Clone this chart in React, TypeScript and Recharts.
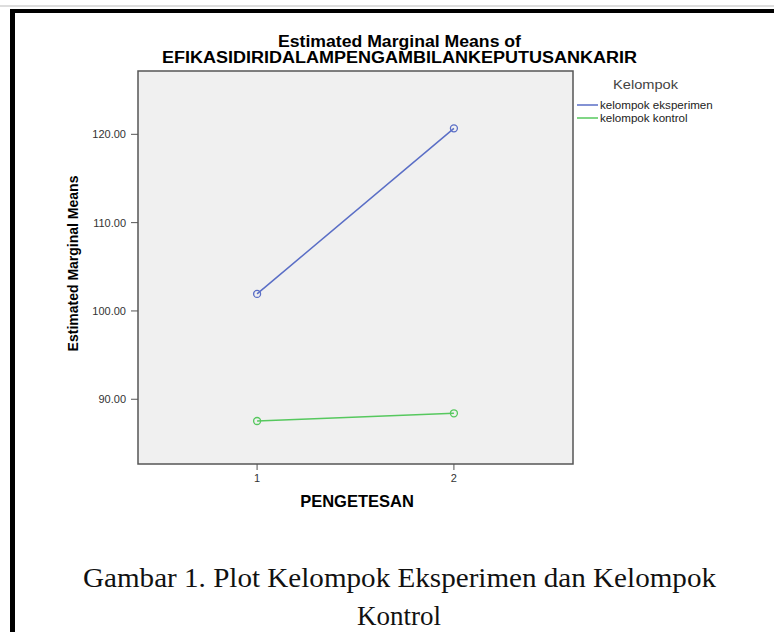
import React from 'react';
import { LineChart, Line, XAxis, YAxis, ReferenceArea, Legend } from 'recharts';

const categories = [1, 2];
const eksperimen = [101.93, 120.68];
const kontrol = [87.54, 88.41];
const seriesNames = ['kelompok eksperimen', 'kelompok kontrol'];
const seriesColors = ['#5a6ec6', '#56c85e'];
const yTicks = [90, 100, 110, 120];
const xTicks = [1, 2];
const yDomain = [82.67, 127.17];
const xDomain = [0.395, 2.605];

const titleLine1 = 'Estimated Marginal Means of';
const titleLine2 = 'EFIKASIDIRIDALAMPENGAMBILANKEPUTUSANKARIR';
const yLabel = 'Estimated Marginal Means';
const xLabel = 'PENGETESAN';
const legendTitle = 'Kelompok';
const caption1 = 'Gambar 1. Plot Kelompok Eksperimen dan Kelompok';
const caption2 = 'Kontrol';

const data = categories.map((c, i) => ({ x: c, eks: eksperimen[i], kon: kontrol[i] }));

const SANS = '"Liberation Sans", Arial, sans-serif';
const SERIF = '"Liberation Serif", "Times New Roman", serif';

const Dot = (props: any) => {
  const { cx, cy, stroke } = props;
  if (cx == null || cy == null) return null;
  return <circle cx={cx} cy={cy} r={3.5} fill="none" stroke={stroke} strokeWidth={1.3} />;
};

const LegendContent = () => (
  <svg width={190} height={60} style={{ display: 'block' }}>
    <text x={40} y={14} fontFamily={SANS} fontSize={13} fill="#444" textLength={65} lengthAdjust="spacingAndGlyphs">
      {legendTitle}
    </text>
    {seriesNames.map((n, i) => (
      <g key={n}>
        <line x1={4} x2={25} y1={30 + i * 13} y2={30 + i * 13} stroke={seriesColors[i]} strokeWidth={1.5} />
        <text x={27} y={30 + i * 13} dy="0.35em" fontFamily={SANS} fontSize={11.6} fill="#222">
          {n}
        </text>
      </g>
    ))}
  </svg>
);

export default function App() {
  return (
    <div style={{ position: 'absolute', left: 0, top: 0, width: 774, height: 632, background: '#fff', overflow: 'hidden' }}>
      <div style={{ position: 'absolute', left: 0, top: 0 }}>
        <LineChart
          width={774}
          height={540}
          data={data}
          margin={{ top: 71, right: 201, left: 78, bottom: 46 }}
        >
          <ReferenceArea
            x1={xDomain[0]}
            x2={xDomain[1]}
            y1={yDomain[0]}
            y2={yDomain[1]}
            fill="#f0f0f0"
            fillOpacity={1}
            stroke="#555"
            strokeWidth={1.5}
            ifOverflow="extendDomain"
          />
          <XAxis
            type="number"
            dataKey="x"
            domain={xDomain}
            ticks={xTicks}
            allowDataOverflow
            axisLine={false}
            tickLine={{ stroke: '#555' }}
            tickSize={6}
            tickMargin={4}
            height={30}
            tick={{ fontSize: 11, fill: '#333', fontFamily: SANS }}
          />
          <YAxis
            type="number"
            domain={yDomain}
            ticks={yTicks}
            allowDataOverflow
            axisLine={false}
            tickLine={{ stroke: '#555' }}
            tickSize={7}
            tickMargin={5}
            width={60}
            tickFormatter={(v: number) => v.toFixed(2)}
            tick={{ fontSize: 11, fill: '#333', fontFamily: SANS }}
          />
          <Legend
            layout="horizontal"
            verticalAlign="middle"
            align="center"
            content={LegendContent}
            wrapperStyle={{ position: 'absolute', left: 573, top: 75, width: 190, height: 60 }}
          />
          <Line
            name={seriesNames[0]}
            dataKey="eks"
            stroke={seriesColors[0]}
            strokeWidth={1.5}
            dot={<Dot />}
            activeDot={false}
            isAnimationActive={false}
          />
          <Line
            name={seriesNames[1]}
            dataKey="kon"
            stroke={seriesColors[1]}
            strokeWidth={1.5}
            dot={<Dot />}
            activeDot={false}
            isAnimationActive={false}
          />
        </LineChart>
      </div>
      <svg width={774} height={632} style={{ position: 'absolute', left: 0, top: 0, pointerEvents: 'none' }}>
        <rect x={0} y={5.5} width={774} height={1} fill="#bbb" />
        <rect x={10} y={9} width={764} height={4} fill="#000" />
        <rect x={10} y={9} width={5} height={623} fill="#000" />
        <text x={278} y={46.5} fontFamily={SANS} fontWeight="bold" fontSize={16} fill="#000" textLength={243} lengthAdjust="spacingAndGlyphs">
          {titleLine1}
        </text>
        <text x={162} y={63} fontFamily={SANS} fontWeight="bold" fontSize={16} fill="#000" textLength={475} lengthAdjust="spacingAndGlyphs">
          {titleLine2}
        </text>
        <text
          x={73}
          y={263.5}
          transform="rotate(-90 73 263.5)"
          textAnchor="middle"
          dy="0.35em"
          fontFamily={SANS}
          fontWeight="bold"
          fontSize={14}
          fill="#000"
        >
          {yLabel}
        </text>
        <text x={357} y={507} textAnchor="middle" fontFamily={SANS} fontWeight="bold" fontSize={16.5} fill="#000">
          {xLabel}
        </text>
        <text x={83} y={587} fontFamily={SERIF} fontSize={27} fill="#111" textLength={633} lengthAdjust="spacingAndGlyphs">
          {caption1}
        </text>
        <text x={399} y={625} textAnchor="middle" fontFamily={SERIF} fontSize={27} fill="#111">
          {caption2}
        </text>
      </svg>
    </div>
  );
}
